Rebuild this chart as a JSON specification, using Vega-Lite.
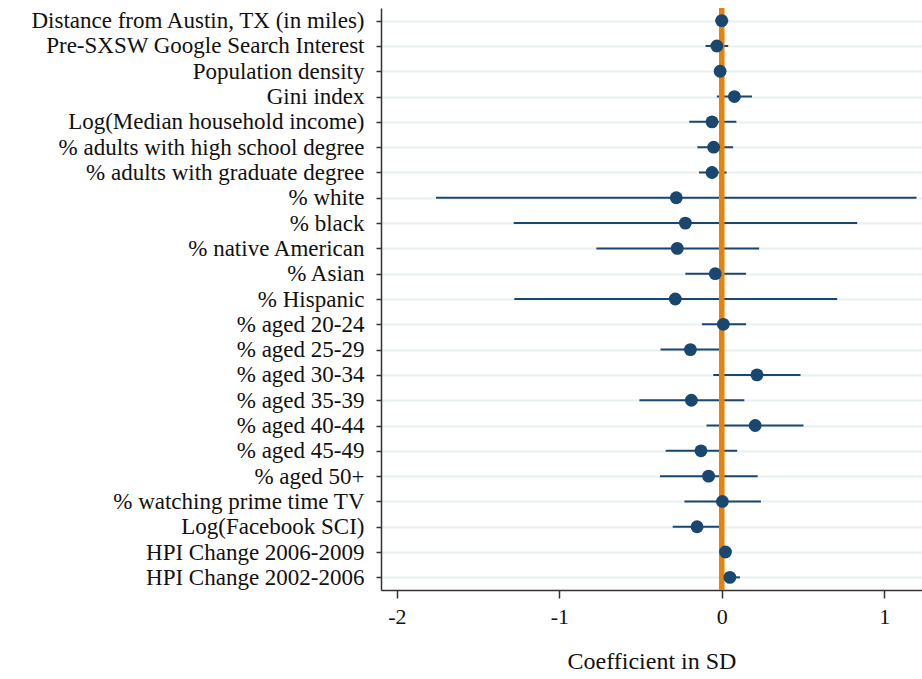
{
  "$schema": "https://vega.github.io/schema/vega-lite/v6.json",
  "width": 541,
  "height": 582,
  "autosize": {"type": "none"},
  "padding": {"left": 381, "top": 8, "right": 0, "bottom": 89},
  "background": "white",
  "config": {
    "view": {"stroke": null},
    "font": "Liberation Serif",
    "axis": {"labelFont": "Liberation Serif", "titleFont": "Liberation Serif", "labelColor": "#111", "titleColor": "#111", "domainColor": "#333", "tickColor": "#333"}
  },
  "datasets": {
    "coef": [
      {"var": "Distance from Austin, TX (in miles)", "est": 0.0, "lo": -0.04, "hi": 0.04},
      {"var": "Pre-SXSW Google Search Interest", "est": -0.03, "lo": -0.10, "hi": 0.04},
      {"var": "Population density", "est": -0.01, "lo": -0.02, "hi": 0.01},
      {"var": "Gini index", "est": 0.078, "lo": -0.03, "hi": 0.186},
      {"var": "Log(Median household income)", "est": -0.06, "lo": -0.20, "hi": 0.09},
      {"var": "% adults with high school degree", "est": -0.05, "lo": -0.15, "hi": 0.07},
      {"var": "% adults with graduate degree", "est": -0.06, "lo": -0.14, "hi": 0.03},
      {"var": "% white", "est": -0.28, "lo": -1.759, "hi": 1.199},
      {"var": "% black", "est": -0.224, "lo": -1.281, "hi": 0.834},
      {"var": "% native American ", "est": -0.274, "lo": -0.772, "hi": 0.23},
      {"var": "% Asian", "est": -0.04, "lo": -0.224, "hi": 0.15},
      {"var": "% Hispanic", "est": -0.286, "lo": -1.277, "hi": 0.711},
      {"var": "% aged 20-24", "est": 0.01, "lo": -0.122, "hi": 0.15},
      {"var": "% aged 25-29", "est": -0.193, "lo": -0.377, "hi": -0.007},
      {"var": "% aged 30-34", "est": 0.217, "lo": -0.052, "hi": 0.485},
      {"var": "% aged 35-39", "est": -0.187, "lo": -0.507, "hi": 0.139},
      {"var": "% aged 40-44", "est": 0.206, "lo": -0.094, "hi": 0.503},
      {"var": "% aged 45-49", "est": -0.128, "lo": -0.345, "hi": 0.095},
      {"var": "% aged 50+", "est": -0.081, "lo": -0.38, "hi": 0.221},
      {"var": "% watching prime time TV", "est": 0.004, "lo": -0.23, "hi": 0.241},
      {"var": "Log(Facebook SCI)", "est": -0.152, "lo": -0.302, "hi": -0.002},
      {"var": "HPI Change 2006-2009", "est": 0.023, "lo": 0.0, "hi": 0.045},
      {"var": "HPI Change 2002-2006", "est": 0.05, "lo": -0.005, "hi": 0.112}
    ],
    "zero": [{"x": 0}]
  },
  "layer": [
    {
      "data": {"name": "coef"},
      "mark": {"type": "rule", "color": "#1a476f", "strokeWidth": 2},
      "encoding": {
        "y": {
          "field": "var", "type": "nominal", "sort": null,
          "scale": {"type": "point", "padding": 0.5},
          "axis": {"title": null, "grid": true, "gridColor": "#e9f0f2", "gridWidth": 2, "tickSize": 5, "labelPadding": 12, "labelFontSize": 23, "labelLimit": 420, "domainWidth": 1.5, "tickWidth": 1.5}
        },
        "x": {
          "field": "lo", "type": "quantitative",
          "scale": {"domain": [-2.098, 1.233], "nice": false, "zero": false},
          "axis": {"title": "Coefficient in SD", "values": [-2, -1, 0, 1], "labelExpr": "'' + datum.value", "grid": false, "tickSize": 8, "labelPadding": 8, "labelFontSize": 22, "titleFontSize": 24, "titleFontWeight": "normal", "titlePadding": 22, "domainWidth": 1.5, "tickWidth": 1.5}
        },
        "x2": {"field": "hi"}
      }
    },
    {
      "data": {"name": "zero"},
      "mark": {"type": "rule", "color": "#e8830a", "strokeWidth": 5.5},
      "encoding": {"x": {"field": "x", "type": "quantitative"}}
    },
    {
      "data": {"name": "coef"},
      "mark": {"type": "point", "filled": true, "color": "#1a476f", "opacity": 1, "size": 165},
      "encoding": {
        "y": {"field": "var", "type": "nominal", "sort": null},
        "x": {"field": "est", "type": "quantitative"}
      }
    }
  ]
}
